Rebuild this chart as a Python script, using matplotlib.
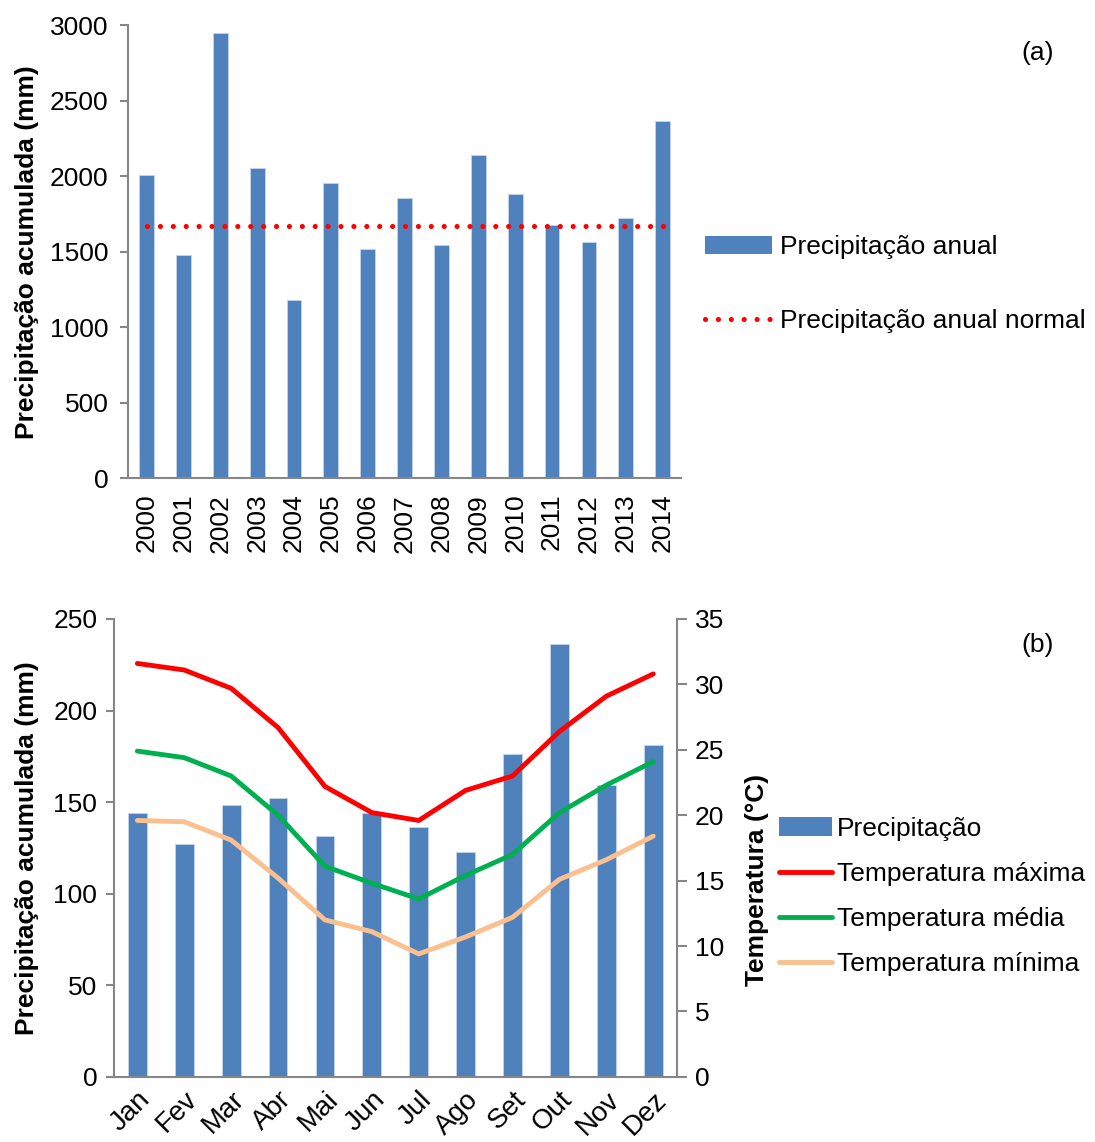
import numpy as np
import matplotlib.pyplot as plt
from matplotlib.lines import Line2D
from matplotlib.patches import Patch

plt.rcParams['font.family'] = ['Liberation Sans', 'DejaVu Sans']

# (a) annual rainfall
anos = ['2000', '2001', '2002', '2003', '2004', '2005', '2006', '2007',
        '2008', '2009', '2010', '2011', '2012', '2013', '2014']
prec_anual = [2005, 1480, 2951, 2054, 1184, 1957, 1518, 1857,
              1544, 2142, 1882, 1675, 1566, 1723, 2367]
prec_normal = 1674

# (b) monthly climatology
meses = ['Jan', 'Fev', 'Mar', 'Abr', 'Mai', 'Jun', 'Jul', 'Ago', 'Set', 'Out', 'Nov', 'Dez']
prec_mensal = [144.1, 127.4, 148.3, 152.5, 131.6, 144.0, 136.5, 122.8, 176.4, 236.3, 159.4, 181.3]
t_max = [31.6, 31.1, 29.7, 26.7, 22.2, 20.2, 19.6, 21.9, 23.0, 26.4, 29.1, 30.8]
t_med = [24.9, 24.4, 23.0, 20.0, 16.1, 14.8, 13.6, 15.4, 17.0, 20.2, 22.3, 24.1]
t_min = [19.6, 19.5, 18.1, 15.2, 12.0, 11.1, 9.4, 10.7, 12.2, 15.1, 16.6, 18.4]

azul = '#4F81BD'
cinza = '#868686'
fs = 19
pontilhado = dict(color='#FF0000', linestyle=(0, (0.01, 2.5)), linewidth=3.7,
                  dash_capstyle='round')

fig = plt.figure(figsize=(10.95, 11.42), dpi=100)


def estilo(ax, pad):
    for s in ['top', 'right']:
        ax.spines[s].set_visible(False)
    for s in ['left', 'bottom']:
        ax.spines[s].set_color(cinza)
        ax.spines[s].set_linewidth(1.5)
    ax.tick_params(axis='y', colors=cinza, labelcolor='black', labelsize=fs,
                   length=6, width=1.5, direction='out', pad=pad)
    ax.tick_params(axis='x', length=0, labelsize=fs, labelcolor='black')


# --- painel (a)
ax1 = fig.add_axes([0.117, 0.581, 0.505, 0.397])
x = np.arange(len(anos))
ax1.bar(x, prec_anual, width=0.4, color=azul, edgecolor='#C6D5EA', linewidth=0.6)
ax1.plot([x[0], x[-1]], [prec_normal, prec_normal], **pontilhado)
ax1.set_xlim(-0.5, len(anos) - 0.5)
ax1.set_ylim(0, 3000)
ax1.set_yticks(range(0, 3001, 500))
ax1.set_xticks(x)
ax1.set_xticklabels(anos, rotation=90)
ax1.set_ylabel('Precipitação acumulada (mm)', fontsize=fs, fontweight='bold')
ax1.yaxis.set_label_coords(-0.161, 0.5)
estilo(ax1, 8)
ax1.tick_params(axis='x', pad=11)

h1 = [Patch(facecolor=azul), Line2D([], [], **pontilhado)]
fig.legend(h1, ['Precipitação anual', 'Precipitação anual normal'],
           loc='center left', bbox_to_anchor=(0.622, 0.751), frameon=False,
           fontsize=fs, handlelength=2.55, handletextpad=0.3, labelspacing=1.9)
fig.text(0.962, 0.954, '(a)', fontsize=fs, ha='right', va='center')

# --- painel (b)
ax2 = fig.add_axes([0.104, 0.057, 0.514, 0.401])
xm = np.arange(len(meses))
ax2.bar(xm, prec_mensal, width=0.4, color=azul, edgecolor='#C6D5EA', linewidth=0.6)
ax2.set_xlim(-0.5, len(meses) - 0.5)
ax2.set_ylim(0, 250)
ax2.set_yticks(range(0, 251, 50))
ax2.set_xticks(xm)
ax2.set_xticklabels(meses, rotation=45, ha='right', rotation_mode='anchor', fontsize=20)
ax2.set_ylabel('Precipitação acumulada (mm)', fontsize=fs, fontweight='bold')
ax2.yaxis.set_label_coords(-0.133, 0.5)
estilo(ax2, 6)
ax2.tick_params(axis='x', pad=7, labelsize=20)

ax3 = ax2.twinx()
l_max, = ax3.plot(xm, t_max, color='#FF0000', linewidth=3.5, solid_capstyle='round')
l_med, = ax3.plot(xm, t_med, color='#00B050', linewidth=3.5, solid_capstyle='round')
l_min, = ax3.plot(xm, t_min, color='#FAC090', linewidth=3.5, solid_capstyle='round')
ax3.set_ylim(0, 35)
ax3.set_yticks(range(0, 36, 5))
for s in ['top', 'left', 'bottom']:
    ax3.spines[s].set_visible(False)
ax3.spines['right'].set_color(cinza)
ax3.spines['right'].set_linewidth(1.5)
ax3.tick_params(axis='y', colors=cinza, labelcolor='black', labelsize=fs,
                length=7, width=1.5, direction='out', pad=6)
ax3.set_ylabel('Temperatura (°C)', fontsize=fs, fontweight='bold')
ax3.yaxis.set_label_coords(1.121, 0.43)

h2 = [Patch(facecolor=azul), l_max, l_med, l_min]
fig.legend(h2, ['Precipitação', 'Temperatura máxima', 'Temperatura média', 'Temperatura mínima'],
           loc='center left', bbox_to_anchor=(0.690, 0.215), frameon=False,
           fontsize=fs, handlelength=2.0, handletextpad=0.2, labelspacing=0.8)
fig.text(0.962, 0.435, '(b)', fontsize=fs, ha='right', va='center')

fig.savefig('out.png', dpi=100)
